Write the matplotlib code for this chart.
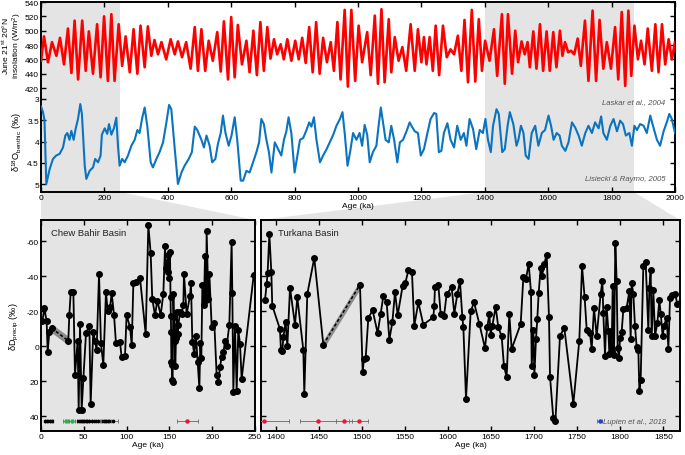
import numpy as np
import matplotlib
matplotlib.use('Agg')
import matplotlib.pyplot as plt
from matplotlib.patches import Polygon

plt.rcParams['font.family'] = ['Liberation Sans', 'DejaVu Sans']
plt.rcParams['mathtext.default'] = 'regular'

# ---------------- data ----------------
ins_age = [0, 9.5, 22, 34.7, 48.5, 60, 72.5, 85, 96, 106, 117, 130, 141, 151, 164, 177, 188, 199, 211, 222,
           232, 245, 256, 267, 280, 292, 304, 314, 327, 337, 348, 358, 369, 380, 395, 409, 422, 432, 445, 458,
           472, 485, 495, 506, 518, 529, 542, 556, 567, 577, 590, 600, 611, 621, 634, 648, 658, 670, 681, 692,
           703, 714, 724, 735, 745, 756, 766, 777, 790, 802, 813, 824, 835, 846, 857, 868, 879, 890, 902, 914,
           924, 935, 945, 958, 968, 979, 991, 1002, 1013, 1029, 1040, 1053, 1063, 1074, 1084, 1097, 1105, 1116, 1128, 1140,
           1152, 1166, 1179, 1189, 1200, 1208, 1216, 1226, 1236, 1245, 1256, 1268, 1280, 1292, 1303, 1315, 1326, 1336, 1347, 1359,
           1370, 1381, 1391, 1401, 1415, 1429, 1439, 1454, 1463, 1473, 1486, 1496, 1505, 1516, 1526, 1535, 1542, 1553, 1563, 1574,
           1584, 1595, 1605, 1616, 1626, 1637, 1645, 1653, 1663, 1672, 1682, 1693, 1703, 1716, 1727, 1740, 1751, 1762, 1774, 1785,
           1798, 1811, 1821, 1832, 1843, 1853, 1862, 1872, 1883, 1893, 1904, 1914, 1927, 1938, 1948, 1959, 1969, 1980, 1990, 2000]
ins_wm2 = [458, 492, 456, 484, 465, 490, 453, 503, 441, 514, 432, 514, 444, 499, 440, 509, 435, 520, 430, 523,
           430, 509, 451, 492, 442, 502, 440, 507, 449, 506, 465, 487, 467, 484, 460, 488, 467, 485, 463, 484,
           447, 505, 444, 502, 444, 486, 458, 498, 443, 513, 432, 519, 435, 508, 453, 486, 442, 500, 438, 512,
           444, 505, 461, 488, 467, 481, 460, 488, 458, 486, 460, 490, 455, 505, 442, 512, 440, 490, 456, 484,
           444, 512, 432, 529, 422, 529, 430, 507, 456, 498, 438, 521, 426, 530, 428, 516, 442, 491, 458, 477,
           444, 509, 444, 502, 456, 491, 453, 491, 444, 507, 438, 507, 463, 474, 467, 493, 444, 515, 428, 529,
           429, 516, 444, 486, 458, 502, 437, 523, 426, 523, 440, 500, 456, 485, 467, 484, 449, 499, 447, 509,
           444, 499, 444, 498, 449, 500, 465, 484, 470, 472, 467, 489, 451, 514, 430, 528, 430, 515, 447, 484,
           447, 505, 432, 526, 423, 528, 437, 507, 460, 486, 453, 503, 444, 509, 442, 509, 453, 488, 460, 484]

d18_age = [0, 6.3, 11, 16.8, 27.3, 37.8, 48, 59, 69.4, 76.8, 83, 90, 95.7, 103, 109, 116.7, 124, 129, 138, 143,
           153.5, 164, 171, 180, 188, 192, 201, 209, 214.5, 222, 230, 237.6, 243, 248, 256, 264, 274.4, 285, 295.5, 304,
           311, 318.6, 327, 335.5, 346, 353, 364, 374, 385, 395.6, 404, 411, 422, 432, 443, 453, 466, 476, 485, 493,
           506, 514, 522, 532, 540, 550, 558, 567, 574, 582, 592, 601, 611, 619, 630, 637.6, 648, 658, 669, 679.6,
           688, 695, 703, 711, 719, 727, 737.5, 748, 758, 766.4, 774, 781, 790, 800, 809, 817, 827, 837.5, 846, 853,
           861, 869, 880, 890, 901, 911, 922, 932, 943, 951, 958, 967, 975, 984.5, 995, 1005, 1013, 1021, 1029, 1037,
           1047, 1058, 1065, 1072, 1079, 1087, 1097, 1105, 1114, 1124, 1132, 1142, 1153, 1163, 1170, 1179, 1189, 1198, 1208, 1219,
           1229, 1240, 1247, 1255, 1263, 1271, 1282, 1292, 1303, 1313, 1324, 1334, 1342, 1352, 1363, 1373, 1384, 1394, 1402, 1410,
           1419, 1426, 1437, 1444, 1455, 1463, 1472, 1479, 1490, 1500, 1506, 1514, 1522, 1529, 1538, 1548, 1559, 1569, 1580, 1590,
           1601, 1609, 1617, 1627, 1636, 1643, 1654, 1664, 1675, 1685, 1696, 1706, 1717, 1727, 1738, 1748, 1759, 1767, 1774, 1785,
           1796, 1806, 1817, 1827, 1836, 1845, 1856, 1864, 1872, 1880, 1890, 1901, 1911, 1922, 1932, 1943, 1953, 1964, 1974, 1982,
           1990, 2000]
d18_val = [3.17, 3.31, 3.50, 5.00, 4.65, 4.41, 4.33, 4.29, 4.14, 3.86, 3.80, 3.96, 3.75, 3.96, 3.71, 3.47, 3.12, 3.35, 4.57, 4.88,
           4.69, 4.61, 4.41, 4.49, 4.33, 3.84, 3.69, 3.82, 3.59, 3.84, 3.69, 3.44, 4.12, 4.57, 4.41, 4.49, 4.33, 4.10, 3.96, 3.73,
           3.80, 3.47, 3.20, 3.65, 4.49, 4.61, 4.41, 4.25, 4.02, 3.55, 3.14, 3.24, 4.18, 5.00, 4.73, 4.57, 4.41, 4.25, 3.65, 3.73,
           3.96, 4.14, 3.86, 4.10, 4.49, 4.41, 4.06, 3.80, 3.39, 3.80, 4.10, 3.86, 3.43, 3.96, 4.92, 4.92, 4.69, 4.73, 4.49, 4.25,
           4.02, 3.47, 3.59, 3.96, 4.25, 4.73, 4.02, 4.18, 4.33, 3.96, 3.76, 3.43, 3.82, 4.73, 4.33, 3.96, 3.92, 3.73, 3.55, 3.65,
           3.43, 3.96, 4.49, 4.33, 4.18, 4.02, 3.84, 3.63, 3.47, 3.31, 3.80, 4.57, 4.25, 3.80, 3.96, 3.80, 4.10, 3.61, 3.84, 4.49,
           4.25, 4.10, 3.63, 3.20, 3.55, 3.96, 4.02, 3.63, 3.96, 4.49, 4.02, 3.96, 3.76, 3.55, 3.65, 3.76, 3.80, 4.33, 4.18, 3.80,
           3.47, 3.33, 3.35, 4.25, 4.22, 3.80, 3.57, 3.96, 4.14, 3.63, 3.96, 3.80, 4.10, 3.47, 3.71, 4.18, 3.73, 3.80, 3.47, 3.96,
           4.25, 3.63, 3.24, 3.35, 4.25, 4.18, 3.63, 3.31, 3.59, 4.10, 3.96, 3.63, 3.80, 4.33, 4.41, 3.80, 3.63, 4.10, 3.80, 3.73,
           3.39, 3.63, 3.96, 3.80, 3.86, 4.10, 4.22, 4.02, 3.55, 3.67, 3.86, 4.10, 3.80, 3.63, 3.80, 3.55, 3.69, 3.41, 3.80, 3.96,
           3.63, 3.47, 3.76, 3.51, 3.59, 3.86, 3.80, 4.10, 3.63, 3.73, 3.59, 3.63, 3.80, 3.39, 3.67, 3.96, 4.10, 3.76, 3.55, 3.35,
           3.47, 3.80]

chew_age = [1.6, 3.9, 6.6, 7.8, 9.7, 12.5, 31.9, 33.1, 34.7, 37.8, 39.7, 42.8, 44.0, 45.6, 47.5, 49.5, 52.6, 56.5, 58.0, 61.0,
            63.0, 65.0, 67.8, 70.0, 72.8, 75.9, 77.9, 80.6, 82.6, 85.3, 87.6, 92.3, 94.2, 98.1, 100.0, 104.0, 106.0, 107.9, 111.0, 115.7,
            122.3, 125.4, 128.1, 130.0, 133.2, 135.9, 139.8, 142.9, 144.9, 145.6, 146.8, 148.0, 148.8, 149.9, 150.7, 151.3, 151.7, 152.0, 152.3, 152.6,
            153.4, 153.8, 154.6, 155.4, 156.2, 156.9, 157.7, 158.5, 159.7, 160.4, 162.4, 164.3, 166.3, 167.0, 170.2, 174.1, 175.2, 176.8, 179.1, 181.0,
            183.0, 185.0, 186.1, 187.3, 188.5, 190.4, 191.6, 192.8, 193.5, 195.5, 196.7, 199.4, 202.5, 205.2, 207.2, 209.1, 211.0, 213.0, 215.0, 217.0,
            220.0, 222.7, 223.5, 224.7, 226.6, 228.6, 230.5, 232.5, 234.4, 248.5]
chew_dD = [-14.3, -21.7, -14.3, 3.4, -8.4, -10.3, -3.2, -17.9, -30.9, -30.9, 16.4, -3.2, 36.2, -12.8, 36.2, 18.3, -7.6, -11.8, 33.0, -8.4,
           -3.2, 2.1, -41.3, -1.9, 10.5, -30.9, -20.0, -22.3, -30.3, -17.9, -1.7, -2.3, 6.3, 5.7, -17.9, -10.9, -0.8, -36.2, -36.6, -38.9,
           -7.0, -69.3, -53.3, -27.0, -17.9, -26.1, -17.9, -29.9, -57.1, -44.6, -48.0, -42.3, -52.2, -38.9, -53.7, -28.0, -17.5, -8.4, 8.8, 10.7,
           19.2, 20.2, -29.9, -16.6, -3.2, 11.0, -4.6, -19.8, -7.0, -12.2, -19.4, -18.5, -23.6, -41.3, -18.5, -29.0, -36.0, -2.7, 4.4, -6.1,
           8.8, 24.0, -1.7, 6.9, -34.9, -23.6, -51.4, -26.7, -66.1, -27.0, -41.3, -11.2, -13.1, 16.4, 20.2, 12.0, 5.9, 3.4, -2.9, -0.4,
           -12.2, -59.4, -30.5, 25.9, -11.8, 25.3, -9.3, -1.3, 18.7, -40.8]
chew_gap = [12.5, 31.9]

turk_age = [1387.2, 1389.2, 1390.3, 1392.3, 1394.6, 1395.7, 1404.6, 1405.8, 1407.4, 1408.5, 1411.2, 1413.2, 1416.3, 1422.1, 1424.8, 1431.8, 1432.9, 1436.4, 1444.5, 1455.0,
            1497.6, 1500.7, 1502.2, 1504.2, 1507.3, 1512.3, 1518.1, 1521.6, 1524.7, 1528.6, 1531.7, 1535.2, 1538.3, 1541.4, 1547.2, 1550.3, 1553.8, 1558.0, 1560.7, 1565.4,
            1571.2, 1582.8, 1583.9, 1584.7, 1588.6, 1591.3, 1595.2, 1598.3, 1604.1, 1607.2, 1610.7, 1613.8, 1616.5, 1617.7, 1620.8, 1626.2, 1630.1, 1636.2, 1642.8, 1645.5,
            1647.9, 1649.4, 1651.4, 1655.2, 1658.3, 1662.2, 1664.9, 1668.0, 1671.1, 1673.8, 1684.3, 1687.4, 1690.5, 1693.6, 1696.3, 1697.1, 1699.0, 1700.2, 1702.1, 1703.6,
            1705.2, 1707.5, 1709.1, 1711.8, 1714.5, 1717.2, 1718.4, 1722.2, 1724.6, 1730.0, 1735.0, 1745.5, 1752.4, 1755.6, 1758.6, 1761.0, 1764.8, 1766.8, 1769.5, 1772.6,
            1777.2, 1779.2, 1780.3, 1782.3, 1784.2, 1786.2, 1787.3, 1788.8, 1790.0, 1791.2, 1792.7, 1794.3, 1795.8, 1797.0, 1798.5, 1799.7, 1801.6, 1803.6, 1807.4, 1810.5,
            1812.1, 1813.2, 1815.2, 1817.1, 1819.1, 1821.0, 1822.2, 1823.7, 1826.8, 1829.5, 1832.6, 1833.8, 1835.3, 1836.5, 1838.4, 1840.4, 1843.1, 1845.4, 1847.0, 1849.3,
            1850.8, 1853.9, 1855.9, 1857.8, 1859.7, 1863.6, 1866.3, 1869.4]
turk_dD = [-26.3, -35.8, -41.9, -64.2, -42.3, -23.2, -9.9, 2.3, 2.9, -5.1, -13.7, 0.0, -33.3, -12.4, -28.0, 2.3, 27.0, -29.9, -50.5, -1.0,
           -35.2, 14.7, 7.2, 6.7, -16.2, -20.6, -7.6, -18.5, -28.6, -25.1, -3.8, -13.7, -31.0, -17.7, -34.7, -36.2, -43.4, -42.3, -11.8, -25.1,
           -12.4, -16.6, -22.9, -33.9, -35.2, -18.7, -17.1, -29.9, -33.7, -18.7, -29.9, -37.1, -16.6, -10.9, 30.1, -20.0, -25.1, -13.0, 1.0, -10.9,
           -18.5, -6.7, -11.8, -22.5, -11.0, -5.7, 11.4, 17.5, -18.5, 1.5, -12.8, -39.4, -38.7, -47.2, -30.9, 11.4, -9.5, 16.2, -4.2, -15.6,
           -30.5, -44.8, -40.4, -47.2, -52.4, -16.6, 17.5, 41.0, 42.9, -6.1, -10.5, 32.8, -3.2, -45.7, -28.0, -9.5, -7.6, 1.5, -21.9, -5.7,
           -29.9, -37.1, -19.0, 5.3, -22.5, -8.6, 4.2, -8.6, 2.9, -34.7, 4.8, -59.0, -37.1, 1.0, 6.7, -4.8, -8.0, -21.3, -21.9, -31.4,
           -4.2, -36.2, -30.1, -11.4, 0.6, 2.3, 25.7, 19.0, -46.1, -48.0, -9.5, -33.3, -43.4, -5.7, -32.0, -6.1, -13.3, -26.3, -18.7, -5.7,
           -11.8, -16.2, 1.5, -27.6, -29.5, -30.1, -24.4, -24.8]
turk_gap = [1455.0, 1497.6]

# age-control points (age, 1-sigma)
chew_ctrl_black = [4.7, 7.4, 10.5, 13.2, 43.6, 46.4, 48.7, 51.4, 54.1, 56.4, 59.2, 63.1, 66.9, 72.1, 74.8, 77.5, 79.8, 84.5]
chew_ctrl_black_err = [0.5, 0.5, 0.5, 0.5, 2, 2, 2, 2, 2, 3, 3, 3, 3, 3, 3, 4, 4, 5]
chew_ctrl_green = [29.2, 35.8]
chew_ctrl_green_err = [3.9, 3.9]
chew_ctrl_red = [171.0]
chew_ctrl_red_err = [12.5]
turk_ctrl_red = [1386.4, 1449.2, 1479.0, 1496.0]
turk_ctrl_red_err = [29, 21, 9, 11]
lupien_ctrl = [1776.0]
lupien_ctrl_err = [3.0]

# ---------------- figure ----------------
W, H = 685, 456
fig = plt.figure(figsize=(W / 100, H / 100), dpi=100)


def px(l, t, r, b):
    return [l / W, 1 - b / H, (r - l) / W, (b - t) / H]


RED = '#ff0000'
BLUE = '#0b74c0'
SHADE = '#e4e4e4'
TXT = '#222222'
TS = 6

ax_ins = fig.add_axes(px(41, 3, 675, 193))
ax_d18 = fig.add_axes(px(41, 3, 675, 193), sharex=ax_ins)
ax_cb = fig.add_axes(px(41, 221, 255, 432))
ax_tk = fig.add_axes(px(261, 221, 680, 432))

for ax in (ax_ins, ax_cb, ax_tk):
    for s in ax.spines.values():
        s.set_linewidth(1.4)
    ax.tick_params(direction='in', top=True, right=True, length=3.5, width=1.0,
                   labelsize=TS, pad=1.4, colors='black')

# top panel
ax_ins.axvspan(0, 250, color=SHADE, lw=0, zorder=0)
ax_ins.axvspan(1400, 1870, color=SHADE, lw=0, zorder=0)
ax_ins.plot(ins_age, ins_wm2, color=RED, lw=1.9, solid_joinstyle='round', zorder=3)
ax_ins.set_xlim(0, 2000)
ax_ins.set_xticks(range(0, 2001, 200))
ax_ins.set_ylim(275, 540)
ax_ins.set_yticks(range(420, 541, 20))
ax_ins.set_xlabel('Age (ka)', fontsize=TS, labelpad=1)
ax_ins.set_ylabel('June 21$^{st}$ 20°N\ninsolation (W/m$^{2}$)', fontsize=6.1, linespacing=1.0)
ax_ins.yaxis.set_label_coords(-0.0262, 0.774)

ax_d18.patch.set_visible(False)
for s in ax_d18.spines.values():
    s.set_visible(False)
ax_d18.plot(d18_age, d18_val, color=BLUE, lw=1.5, solid_joinstyle='round', zorder=3)
ax_d18.set_ylim(5.188, 0.718)
ax_d18.set_yticks([3, 3.5, 4, 4.5, 5])
ax_d18.set_yticklabels(['3', '3.5', '4', '4.5', '5'])
ax_d18.tick_params(axis='y', direction='in', left=True, right=True, length=3.5, width=1.0,
                   labelsize=TS, pad=1.4)
ax_d18.tick_params(axis='x', which='both', bottom=False, top=False, labelbottom=False)
ax_d18.set_ylabel('δ$^{18}$O$_{benthic}$ (‰)', fontsize=6.6)
ax_d18.yaxis.set_label_coords(-0.027, 0.268)

ax_ins.text(0.985, 0.475, 'Laskar et al., 2004', transform=ax_ins.transAxes, ha='right', va='center',
            fontsize=5.6, style='italic', color='#555555')
ax_ins.text(0.985, 0.07, 'Lisiecki & Raymo, 2005', transform=ax_ins.transAxes, ha='right', va='center',
            fontsize=5.6, style='italic', color='#555555')


def draw_record(ax, age, val, gap):
    age = np.asarray(age)
    val = np.asarray(val)
    i = int(np.where(age == gap[0])[0][0])
    g_a = age[i:i + 2]
    g_v = val[i:i + 2]
    ax.fill_between(g_a, g_v - 2.5, g_v + 2.5, color='#8c8c8c', lw=0, zorder=2)
    ax.plot(g_a, g_v, color='black', lw=1.1, ls=(0, (2, 1.5)), zorder=3)
    kw = dict(color='black', lw=1.3, marker='o', ms=4.0, zorder=4)
    ax.plot(age[:i + 1], val[:i + 1], **kw)
    ax.plot(age[i + 1:], val[i + 1:], **kw)


CTRL_Y = 42.7
for ax in (ax_cb, ax_tk):
    ax.set_facecolor(SHADE)
    ax.set_ylim(48.4, -72.2)
    ax.set_yticks([-60, -40, -20, 0, 20, 40])
    ax.set_xlabel('Age (ka)', fontsize=TS, labelpad=1)

draw_record(ax_cb, chew_age, chew_dD, chew_gap)
ax_cb.set_xlim(0, 250)
ax_cb.set_xticks(range(0, 251, 50))
ax_cb.set_yticklabels(['-60', '-40', '-20', '0', '20', '40'])
ax_cb.set_ylabel('δD$_{precip}$ (‰)', fontsize=6.6)
ax_cb.yaxis.set_label_coords(-0.095, 0.5)
ax_cb.text(0.047, 0.94, 'Chew Bahir Basin', transform=ax_cb.transAxes, fontsize=6.8, color=TXT,
           va='center', ha='left')

ekw = dict(ls='none', ecolor='#777777', elinewidth=0.7, capsize=1.2, capthick=0.7, zorder=5)
ax_cb.errorbar(chew_ctrl_black, [CTRL_Y] * len(chew_ctrl_black), xerr=chew_ctrl_black_err,
               fmt='s', ms=2.0, color='black', **ekw)
ax_cb.errorbar(chew_ctrl_green, [CTRL_Y] * len(chew_ctrl_green), xerr=chew_ctrl_green_err,
               fmt='o', ms=2.2, color='#2fb34a', **ekw)
ax_cb.errorbar(chew_ctrl_red, [CTRL_Y] * len(chew_ctrl_red), xerr=chew_ctrl_red_err,
               fmt='o', ms=2.2, color='#e8173a', **ekw)

draw_record(ax_tk, turk_age, turk_dD, turk_gap)
ax_tk.set_xlim(1382.6, 1869.4)
ax_tk.set_xticks(range(1400, 1851, 50))
ax_tk.set_yticklabels([])
ax_tk.text(0.04, 0.94, 'Turkana Basin', transform=ax_tk.transAxes, fontsize=6.8, color=TXT,
           va='center', ha='left')
ax_tk.errorbar(turk_ctrl_red, [CTRL_Y] * len(turk_ctrl_red), xerr=turk_ctrl_red_err,
               fmt='o', ms=2.2, color='#e8173a', **ekw)
ax_tk.errorbar(lupien_ctrl, [CTRL_Y] * len(lupien_ctrl), xerr=lupien_ctrl_err,
               fmt='o', ms=2.2, color='#1f3fd6', **ekw)
ax_tk.text(lupien_ctrl[0] + 4, CTRL_Y, 'Lupien et al., 2018', fontsize=5.6, style='italic',
           color='#555555', va='center', ha='left')

# connecting wedges
inv = fig.transFigure.inverted()


def wedge(x0, x1, axb):
    t = ax_ins.get_xaxis_transform()
    p = [t.transform((x0, 0)), t.transform((x1, 0)),
         axb.transAxes.transform((1, 1)), axb.transAxes.transform((0, 1))]
    p = inv.transform(np.array(p))
    poly = Polygon(p, closed=True, transform=fig.transFigure, facecolor=SHADE,
                   edgecolor='none', zorder=-1)
    fig.add_artist(poly)


wedge(0, 250, ax_cb)
wedge(1400, 1870, ax_tk)

fig.savefig('out.png', dpi=100)
